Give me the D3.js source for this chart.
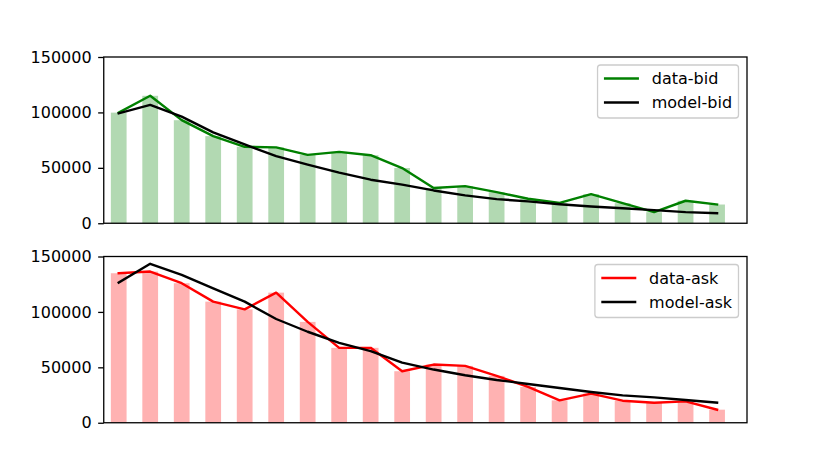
<!DOCTYPE html>
<html>
<head>
<meta charset="utf-8">
<script src="https://cdn.jsdelivr.net/npm/d3@7"></script>
<style>
  body { margin: 0; background: #fff; }
  text { font-family: "DejaVu Sans", sans-serif; }
</style>
</head>
<body>
<svg id="chart" width="830" height="475"></svg>
<script>
// values, one per bar (x = 0..19)
const bidData  = [99800, 115000, 93000, 78600, 69000, 68500, 61700, 64400, 61400, 49800,
                  31800, 33500, 28100, 22100, 18400, 26300, 18100, 10000, 20300, 16900];
const bidModel = [99200, 106800, 96200, 82000, 71100, 60500, 52900, 45700, 39300, 34800,
                  29600, 25100, 21800, 19700, 17200, 15100, 13600, 11800, 10000, 9100];
const askData  = [134900, 136400, 125900, 109300, 102300, 117400, 91000, 67600, 67600, 46500,
                  52500, 51300, 42300, 32300, 20200, 26300, 19900, 18100, 19300, 11800];
const askModel = [126500, 143400, 133400, 121300, 109300, 93600, 82100, 72100, 64600, 54300,
                  48000, 42900, 38600, 35000, 31400, 27800, 24700, 22900, 20500, 18100];
const yTicks = [0, 50000, 100000, 150000];

const panels = [
  { top: 57,    bottom: 223.25, data: bidData, model: bidModel, color: "#008000", bar: "#008000",
    names: ["data-bid", "model-bid"] },
  { top: 256.5, bottom: 422.75, data: askData, model: askModel, color: "#ff0000", bar: "#ff0000",
    names: ["data-ask", "model-ask"] }
];

const left = 103.75, right = 747;
const fontSize = 16;
const svg = d3.select("#chart");

const xScale = d3.scaleLinear()
    .domain([-0.475, 19.95])
    .range([left, right]);
const barW = xScale(0.5) - xScale(0);

panels.forEach(function(p) {
  const yScale = d3.scaleLinear()
      .domain([0, 150000])
      .range([p.bottom, p.top]);

  const g = svg.append("g");

  // bars
  g.selectAll("rect.bar")
    .data(p.data)
    .enter()
    .append("rect")
    .attr("class", "bar")
    .attr("x", (d, i) => xScale(i) - barW / 2)
    .attr("y", d => yScale(d))
    .attr("width", barW)
    .attr("height", d => yScale(0) - yScale(d))
    .attr("fill", p.bar)
    .attr("fill-opacity", 0.3);

  const line = d3.line()
      .x((d, i) => xScale(i))
      .y(d => yScale(d));

  g.append("path")
    .datum(p.data)
    .attr("d", line)
    .attr("fill", "none")
    .attr("stroke", p.color)
    .attr("stroke-width", 2.4)
    .attr("stroke-linejoin", "round")
    .attr("stroke-linecap", "square");

  g.append("path")
    .datum(p.model)
    .attr("d", line)
    .attr("fill", "none")
    .attr("stroke", "#000")
    .attr("stroke-width", 2.4)
    .attr("stroke-linejoin", "round")
    .attr("stroke-linecap", "square");

  // y axis
  const yAxis = g.append("g")
    .attr("transform", `translate(${left},0)`)
    .call(d3.axisLeft(yScale).tickValues(yTicks).tickFormat(d3.format("d"))
      .tickSize(5.6).tickPadding(6.5));
  yAxis.select(".domain").remove();
  yAxis.selectAll(".tick line").attr("stroke", "#000").attr("stroke-width", 1.3);
  yAxis.selectAll(".tick text")
    .attr("fill", "#000")
    .style("font-size", fontSize + "px")
    .style("font-family", "'DejaVu Sans', sans-serif");

  // frame
  g.append("rect")
    .attr("x", left)
    .attr("y", p.top)
    .attr("width", right - left)
    .attr("height", p.bottom - p.top)
    .attr("fill", "none")
    .attr("stroke", "#000")
    .attr("stroke-width", 1.3);

  // legend
  const lg = g.append("g");
  const labels = lg.selectAll("text")
    .data(p.names)
    .enter()
    .append("text")
    .attr("y", (d, i) => p.top + 21.5 + i * 24)
    .attr("dy", "0.35em")
    .style("font-size", fontSize + "px")
    .attr("fill", "#000")
    .text(d => d);
  const tw = d3.max(labels.nodes(), n => n.getComputedTextLength());
  const boxW = 6.4 + 35 + 12.8 + tw + 6.4;
  const boxX = right - 8.5 - boxW;
  const boxY = p.top + 8;
  lg.insert("rect", "text")
    .attr("x", boxX)
    .attr("y", boxY)
    .attr("width", boxW)
    .attr("height", 53)
    .attr("rx", 3)
    .attr("fill", "#fff")
    .attr("fill-opacity", 0.8)
    .attr("stroke", "#ccc")
    .attr("stroke-width", 1.3);
  labels.attr("x", boxX + 6.4 + 35 + 12.8);
  lg.selectAll("line")
    .data(p.names)
    .enter()
    .append("line")
    .attr("x1", boxX + 6.4)
    .attr("x2", boxX + 6.4 + 35)
    .attr("y1", (d, i) => p.top + 21.5 + i * 24)
    .attr("y2", (d, i) => p.top + 21.5 + i * 24)
    .attr("stroke", (d, i) => i === 0 ? p.color : "#000")
    .attr("stroke-width", 2.4);
});
</script>
</body>
</html>
